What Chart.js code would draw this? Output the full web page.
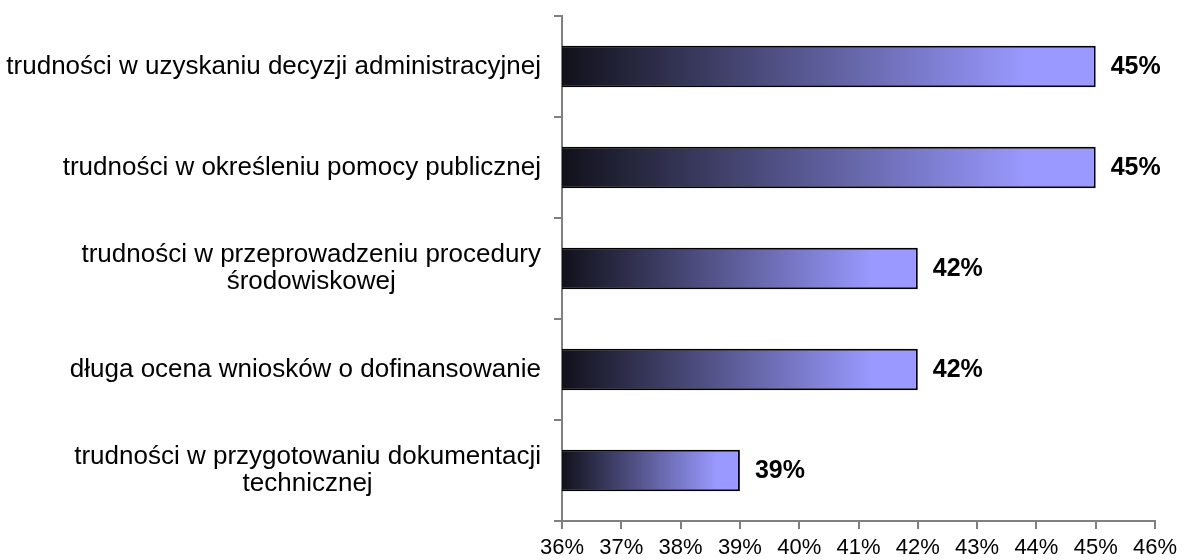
<!DOCTYPE html>
<html>
<head>
<meta charset="utf-8">
<script src="https://cdn.jsdelivr.net/npm/chart.js@4/dist/chart.umd.min.js"></script>
<style>
  html, body { margin: 0; padding: 0; background: #fff; }
  #wrap { width: 1184px; height: 560px; position: relative; }
</style>
</head>
<body>
<div id="wrap"><canvas id="barChart"></canvas></div>
<script>
// Problems reported by applicants (share of answers)
const categories = [
    'trudności w uzyskaniu decyzji administracyjnej',
    'trudności w określeniu pomocy publicznej',
    ['trudności w przeprowadzeniu procedury', 'środowiskowej'],
    'długa ocena wniosków o dofinansowanie',
    ['trudności w przygotowaniu dokumentacji', 'technicznej']
];
const values = [45, 45, 42, 42, 39];
const axisMin = 36;
const axisMax = 46;

const fontFamily = '"Liberation Sans", Arial, sans-serif';

// dark-to-light fill along each bar
function barGradient(context) {
    const chart = context.chart;
    const xScale = chart.scales.x;
    if (!xScale || !chart.chartArea) return '#9999ff';
    const x0 = xScale.getPixelForValue(axisMin);
    const x1 = xScale.getPixelForValue(values[context.dataIndex]);
    const g = chart.ctx.createLinearGradient(x0, 0, x1, 0);
    g.addColorStop(0, '#11111b');
    g.addColorStop(0.87, '#9999ff');
    g.addColorStop(1, '#9999ff');
    return g;
}

// value labels at bar ends
const valueLabels = {
    id: 'valueLabels',
    afterDatasetsDraw(chart) {
        const ctx = chart.ctx;
        const meta = chart.getDatasetMeta(0);
        ctx.save();
        ctx.font = 'bold 25px ' + fontFamily;
        ctx.fillStyle = '#000';
        ctx.textAlign = 'left';
        ctx.textBaseline = 'middle';
        meta.data.forEach((bar, i) => {
            ctx.fillText(values[i] + '%', bar.x + 15, bar.y + 1);
        });
        ctx.restore();
    }
};

// category labels: block right-aligned, lines centred inside the block
const categoryLabels = {
    id: 'categoryLabels',
    afterDraw(chart) {
        const ctx = chart.ctx;
        const yScale = chart.scales.y;
        const right = yScale.right - 21;
        const lineH = 27;
        ctx.save();
        ctx.font = '26px ' + fontFamily;
        ctx.fillStyle = '#000';
        ctx.textAlign = 'center';
        ctx.textBaseline = 'middle';
        categories.forEach((label, i) => {
            const lines = Array.isArray(label) ? label : [label];
            const w = Math.max(...lines.map(l => ctx.measureText(l).width));
            const cx = right - w / 2;
            const cy = yScale.getPixelForValue(i);
            const y0 = cy - (lines.length - 1) * lineH / 2;
            lines.forEach((l, j) => ctx.fillText(l, cx, y0 + j * lineH));
        });
        ctx.restore();
    }
};

function createBarChart() {
    const ctx = document.getElementById('barChart');
    if (!ctx) return;

    new Chart(ctx.getContext('2d'), {
        type: 'bar',
        data: {
            labels: categories,
            datasets: [{
                data: values,
                backgroundColor: barGradient,
                borderColor: '#000',
                borderWidth: 2,
                borderSkipped: false,
                categoryPercentage: 0.41,
                barPercentage: 1.0
            }]
        },
        options: {
            indexAxis: 'y',
            responsive: true,
            maintainAspectRatio: false,
            animation: false,
            layout: {
                padding: { top: 16, right: 29, left: 0, bottom: 0 }
            },
            plugins: {
                legend: { display: false },
                tooltip: { enabled: false }
            },
            scales: {
                x: {
                    min: axisMin,
                    max: axisMax,
                    border: { color: '#808080', width: 2 },
                    grid: {
                        drawOnChartArea: false,
                        color: '#808080',
                        tickLength: 8,
                        lineWidth: 2
                    },
                    ticks: {
                        stepSize: 1,
                        padding: 6,
                        maxRotation: 0,
                        autoSkip: false,
                        color: '#000',
                        font: { family: fontFamily, size: 22 },
                        callback: function(value) {
                            return value + '%';
                        }
                    },
                    afterFit: function(scale) { scale.height = 39; }
                },
                y: {
                    border: { color: '#808080', width: 2 },
                    grid: {
                        drawOnChartArea: false,
                        color: '#808080',
                        tickLength: 8,
                        lineWidth: 2
                    },
                    ticks: {
                        display: false
                    },
                    afterFit: function(scale) {
                        scale.width = 562;
                        scale.paddingTop = 0;
                        scale.paddingBottom = 0;
                    }
                }
            }
        },
        plugins: [valueLabels, categoryLabels]
    });
}

document.addEventListener('DOMContentLoaded', function() {
    if (typeof Chart !== 'undefined') {
        createBarChart();
    }
});
</script>
</body>
</html>
